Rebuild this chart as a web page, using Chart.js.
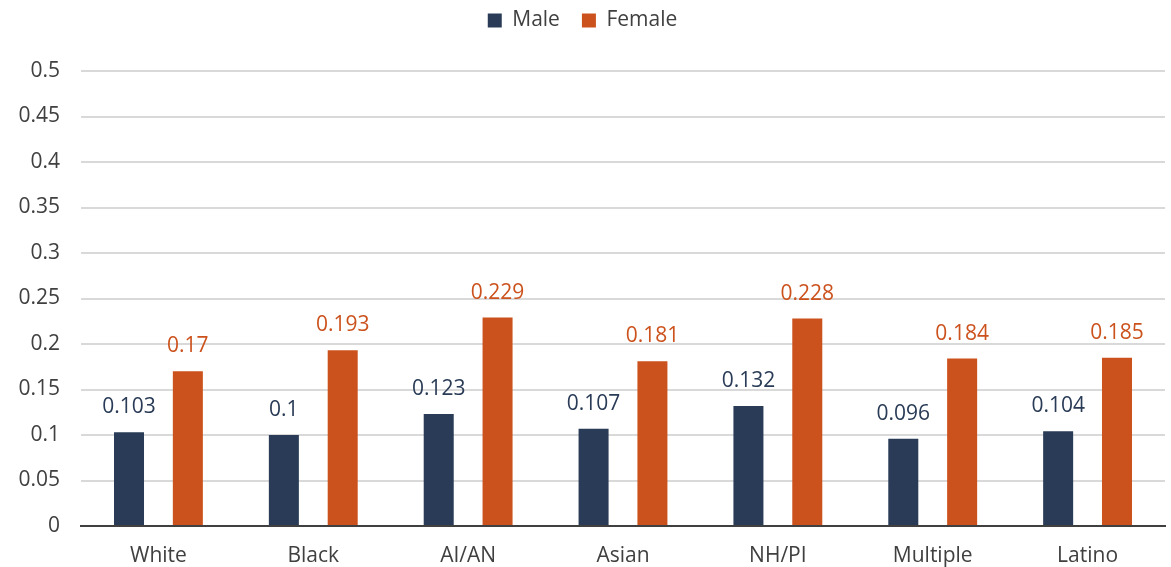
<!DOCTYPE html>
<html>
<head>
<meta charset="utf-8">
<script src="https://cdn.jsdelivr.net/npm/chart.js@4/dist/chart.umd.min.js"></script>
<style>
  html, body { margin: 0; padding: 0; background: #ffffff; }
  #wrap { width: 1171px; height: 567px; }
</style>
</head>
<body>
<div id="wrap"><canvas id="chart" width="1171" height="567"></canvas></div>
<script>
const categories = ['White', 'Black', 'AI/AN', 'Asian', 'NH/PI', 'Multiple', 'Latino'];
const maleValues = [0.103, 0.1, 0.123, 0.107, 0.132, 0.096, 0.104];
const femaleValues = [0.17, 0.193, 0.229, 0.181, 0.228, 0.184, 0.185];
const yTicks = [0, 0.05, 0.1, 0.15, 0.2, 0.25, 0.3, 0.35, 0.4, 0.45, 0.5];

const NAVY = '#293b56';
const ORANGE = '#cc521d';
const FONT = "'Open Sans', sans-serif";
const FONT_SIZE = 21;

// Writes each bar's value above it, in the bar's colour
const valueLabels = {
  id: 'valueLabels',
  afterDatasetsDraw(chart) {
    const ctx = chart.ctx;
    ctx.save();
    ctx.font = FONT_SIZE + 'px ' + FONT;
    ctx.textAlign = 'center';
    ctx.textBaseline = 'middle';
    chart.data.datasets.forEach((ds, i) => {
      const meta = chart.getDatasetMeta(i);
      ctx.fillStyle = ds.backgroundColor;
      meta.data.forEach((bar, j) => {
        ctx.fillText(String(ds.data[j]), bar.x, bar.y - 25);
      });
    });
    ctx.restore();
  }
};

// Fixed legend band height so the plot starts below it
const legendHeight = {
  id: 'legendHeight',
  beforeInit(chart) {
    const fit = chart.legend.fit;
    chart.legend.fit = function () {
      fit.call(this);
      this.height = 83;
    };
  }
};

new Chart(document.getElementById('chart'), {
  type: 'bar',
  data: {
    labels: categories,
    datasets: [
      { label: 'Male', data: maleValues, backgroundColor: NAVY },
      { label: 'Female', data: femaleValues, backgroundColor: ORANGE }
    ]
  },
  options: {
    responsive: false,
    animation: false,
    categoryPercentage: 0.76,
    barPercentage: 0.51,
    layout: { padding: { top: -12, right: 6, bottom: 0, left: 0 } },
    plugins: {
      legend: {
        position: 'top',
        labels: {
          boxWidth: 14,
          boxHeight: 14,
          padding: 22,
          color: '#404040',
          font: { family: FONT, size: FONT_SIZE }
        }
      },
      tooltip: { enabled: false }
    },
    scales: {
      x: {
        grid: { display: false, drawTicks: false },
        border: { display: true, color: '#404040', width: 2 },
        ticks: { color: '#404040', font: { family: FONT, size: FONT_SIZE }, padding: 17 },
        afterFit(axis) { axis.height = 41; }
      },
      y: {
        min: 0,
        max: 0.5,
        afterBuildTicks(axis) { axis.ticks = yTicks.map(v => ({ value: v })); },
        afterFit(axis) { axis.width = 81; },
        grid: { color: '#d9d9d9', lineWidth: 2, drawTicks: false },
        border: { display: false },
        ticks: {
          color: '#404040',
          font: { family: FONT, size: FONT_SIZE },
          padding: 21,
          callback: v => String(parseFloat(Number(v).toFixed(2)))
        }
      }
    }
  },
  plugins: [valueLabels, legendHeight]
});
</script>
</body>
</html>
